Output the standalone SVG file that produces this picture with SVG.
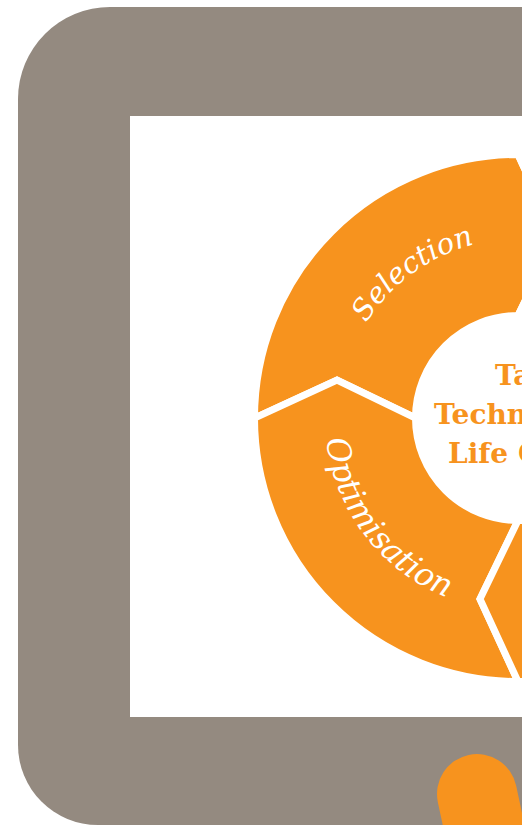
<svg xmlns="http://www.w3.org/2000/svg" width="522" height="825" viewBox="0 0 522 825">
<defs>
<style>
.frame{fill:#948a80}
.screen{fill:#ffffff}
.seg{fill:#f7931e;stroke:#ffffff;stroke-width:7;stroke-linejoin:miter;stroke-miterlimit:10}
.lbl{font-family:"DejaVu Serif","Liberation Serif",serif;font-style:italic;fill:#ffffff}
.ctr{font-family:"DejaVu Serif","Liberation Serif",serif;font-weight:bold;font-size:28px;fill:#f7931e}
</style>
<path id="arcSel" d="M 339 418 A 179 179 0 0 1 518 239"/>
<path id="arcOpt" d="M 325 418 A 193 193 0 0 0 518 611"/>
</defs>
<g id="monitor">
<path class="frame" d="M 110 7 H 540 V 825 H 98 A 80 80 0 0 1 18 745 V 99 A 92 92 0 0 1 110 7 Z"/>
<rect class="screen" x="130" y="116" width="420" height="601"/>
<line x1="477" y1="794" x2="498" y2="892" stroke="#f7931e" stroke-width="80" stroke-linecap="round"/>
</g>
<g id="selection">
<path class="seg" d="M 254.5 418 A 263.5 263.5 0 0 1 518 154.5 L 556 237 L 518 315.5 A 102.5 102.5 0 0 0 415.5 418 L 337 380 Z"/>
<text class="lbl" font-size="29"><textPath href="#arcSel" startOffset="60%" text-anchor="middle">Selection</textPath></text>
</g>
<g id="optimisation">
<path class="seg" d="M 254.5 418 L 337 380 L 415.5 418 A 102.5 102.5 0 0 0 518 520.5 L 480 599 L 518 681.5 A 263.5 263.5 0 0 1 254.5 418 Z"/>
<text class="lbl" font-size="32"><textPath href="#arcOpt" startOffset="41.5%" text-anchor="middle">Optimisation</textPath></text>
</g>
<g id="segment-top-right">
<path class="seg" d="M 518 154.5 A 263.5 263.5 0 0 1 781.5 418 L 699 456 L 620.5 418 A 102.5 102.5 0 0 0 518 315.5 L 556 237 Z"/>
</g>
<g id="segment-bottom-right">
<path class="seg" d="M 781.5 418 A 263.5 263.5 0 0 1 518 681.5 L 480 599 L 518 520.5 A 102.5 102.5 0 0 0 620.5 418 L 699 456 Z"/>
</g>
<g id="center">
<text class="ctr" x="495" y="385">Ta</text>
<text class="ctr" x="434" y="424">Techn</text>
<text class="ctr" x="448" y="463">Life C</text>
</g>
<g id="connectors"></g>
</svg>
